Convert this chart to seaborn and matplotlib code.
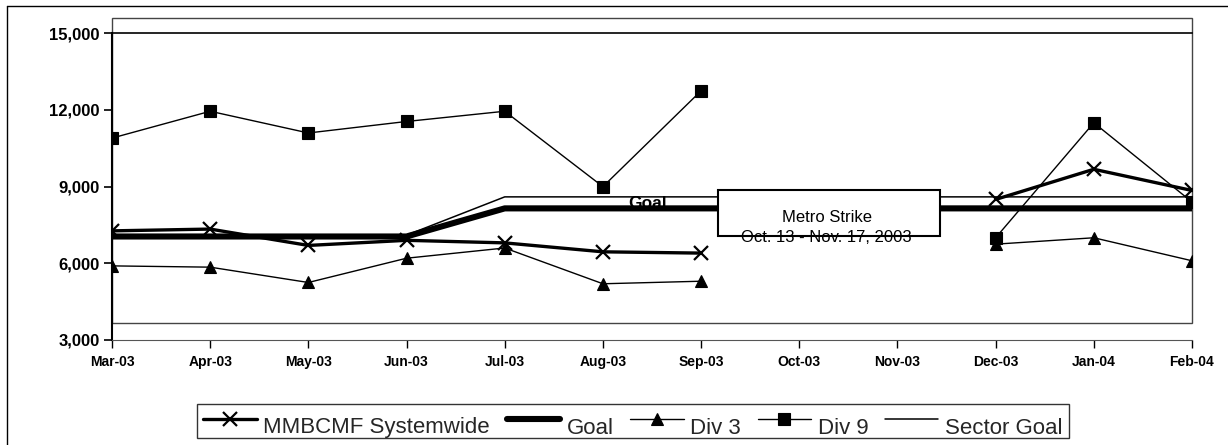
import numpy as np
import pandas as pd
import matplotlib
matplotlib.use("Agg")
import matplotlib.pyplot as plt
from matplotlib.lines import Line2D
from matplotlib.patches import Rectangle
import seaborn as sns

# ---- data -------------------------------------------------------------
months = ["Mar-03", "Apr-03", "May-03", "Jun-03", "Jul-03", "Aug-03",
          "Sep-03", "Oct-03", "Nov-03", "Dec-03", "Jan-04", "Feb-04"]
nan = np.nan
mmbcmf_systemwide = [7270, 7340, 6700, 6900, 6800, 6450, 6400, nan, nan, 8500, 9680, 8850]
goal = [7050, 7050, 7050, 7050, 8150, 8150, 8150, 8150, 8150, 8150, 8150, 8150]
div3 = [5900, 5850, 5250, 6200, 6600, 5200, 5300, nan, nan, 6750, 7000, 6100]
div9 = [10900, 11950, 11100, 11550, 11950, 9000, 12750, nan, nan, 7000, 11500, 8400]
sector_goal = [7100, 7100, 7100, 7100, 8600, 8600, 8600, 8600, 8600, 8600, 8600, 8600]

y_ticks = [3000, 6000, 9000, 12000, 15000]
y_tick_labels = ["3,000", "6,000", "9,000", "12,000", "15,000"]
strike_title = "Metro Strike"
strike_dates = "Oct. 13 - Nov. 17, 2003"
goal_label = "Goal"

series_names = ["MMBCMF Systemwide", "Goal", "Div 3", "Div 9", "Sector Goal"]
series_values = [mmbcmf_systemwide, goal, div3, div9, sector_goal]


def long_form(name, values):
    """Long-form table; a new segment starts after every gap."""
    vals = np.asarray(values, dtype=float)
    seg = np.cumsum(np.isnan(vals))
    df = pd.DataFrame({"idx": np.arange(len(vals)), "value": vals,
                       "seg": seg, "series": name})
    return df.dropna(subset=["value"])


frames = {n: long_form(n, v) for n, v in zip(series_names, series_values)}

# ---- styles -----------------------------------------------------------
styles = {
    "MMBCMF Systemwide": dict(lw=2.4, marker="x", ms=9.5, mew=1.6, zorder=4),
    "Goal": dict(lw=4.4, marker=None, zorder=3),
    "Div 3": dict(lw=1.0, marker="^", ms=9, mew=0.8, zorder=3.5),
    "Div 9": dict(lw=1.0, marker="s", ms=8.5, mew=0.8, zorder=3.5),
    "Sector Goal": dict(lw=1.1, marker=None, zorder=3),
}

sns.set_theme(style="white")
plt.rcParams["font.family"] = ["Liberation Sans", "DejaVu Sans"]

W, H = 1228, 445
fig = plt.figure(figsize=(W / 100, H / 100), dpi=100)
fig.patch.set_facecolor("white")
ax = fig.add_axes([112 / W, 1 - 340 / H, 1080 / W, (340 - 33.3) / H])
ax.set_facecolor("white")

for name in series_names:
    st = styles[name]
    kw = dict(color="black", lw=st["lw"], zorder=st["zorder"])
    if st["marker"]:
        kw.update(marker=st["marker"], ms=st["ms"], mew=st["mew"],
                  mec="black", mfc="black")
    sns.lineplot(data=frames[name], x="idx", y="value", units="seg",
                 estimator=None, sort=False, legend=False, ax=ax, **kw)

# plot-area border
ax.add_patch(Rectangle((0, 3650), 11, 15600 - 3650, fill=False,
                       ec="#444444", lw=1.0, clip_on=False, zorder=1))

# "Goal" tag sitting on the goal line
ax.text(5.45, 8150, goal_label, ha="center", va="baseline",
        fontsize=12.5, fontweight="bold", color="black", zorder=2.5)

# strike annotation box
ax.add_patch(Rectangle((6.17, 7050), 8.43 - 6.17, 8870 - 7050,
                       fc="white", ec="black", lw=1.5, zorder=5))
ax.text(7.28, 7800, strike_title, ha="center", va="center",
        fontsize=12, color="black", zorder=6)
ax.text(7.28, 7020, strike_dates, ha="center", va="center",
        fontsize=12, color="black", zorder=6)

# axes
ax.set_xlim(0, 11)
ax.set_ylim(3000, 15000)
ax.set_xticks(range(len(months)))
ax.set_xticklabels(months, fontsize=10, fontweight="bold")
ax.set_yticks(y_ticks)
ax.set_yticklabels(y_tick_labels, fontsize=12, fontweight="bold")
ax.set_xlabel("")
ax.set_ylabel("")
ax.tick_params(axis="y", direction="out", length=6, width=1.2, pad=3,
               left=True, colors="black")
ax.tick_params(axis="x", direction="out", length=6, width=1.0, pad=5,
               bottom=True, colors="black")
ax.spines["right"].set_visible(False)
ax.spines["left"].set_linewidth(1.5)
ax.spines["left"].set_color("black")
ax.spines["top"].set_linewidth(1.2)
ax.spines["top"].set_color("black")
ax.spines["bottom"].set_linewidth(0.8)
ax.spines["bottom"].set_color("#555555")
ax.grid(False)

# chart frame
fig.add_artist(Line2D([7 / W, 7 / W], [0, 1 - 6 / H], transform=fig.transFigure,
                      color="black", lw=1.0))
fig.add_artist(Line2D([7 / W, 1], [1 - 6 / H, 1 - 6 / H], transform=fig.transFigure,
                      color="black", lw=1.0))

# legend
handles = []
for name in series_names:
    st = styles[name]
    h = Line2D([], [], color="black", lw=st["lw"],
               marker=st["marker"] if st["marker"] else None,
               ms=st.get("ms", 0), mew=st.get("mew", 0),
               mec="black", mfc="black")
    handles.append(h)
leg = fig.legend(handles, series_names, loc="center",
                 bbox_to_anchor=(633 / W, 1 - 421 / H), ncol=5, fontsize=16,
                 frameon=True, fancybox=False, edgecolor="black",
                 handlelength=2.4, handletextpad=0.3, columnspacing=0.75,
                 borderpad=0.3, borderaxespad=0)
leg.get_frame().set_linewidth(1.0)
for t in leg.get_texts():
    t.set_y(-7)

fig.savefig("out.png", dpi=100, facecolor="white")
